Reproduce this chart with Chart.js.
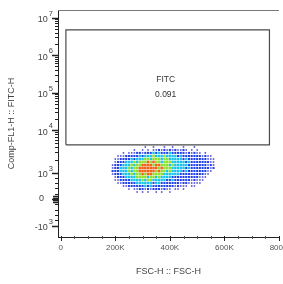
<!DOCTYPE html>
<html>
<head>
<meta charset="utf-8">
<script src="https://cdn.jsdelivr.net/npm/chart.js@4.4.1/dist/chart.umd.min.js"></script>
<style>
  html, body { margin: 0; padding: 0; background: #fff; overflow: hidden; }
</style>
</head>
<body>
<canvas id="c" width="283" height="284"></canvas>
<script>
// FSC-H bin centres (K) and FITC-H bin centres
const FSC_BINS = [190, 200, 210, 220, 230, 240, 250, 260, 270, 280, 290, 300, 310, 320, 330, 340, 350, 360, 370,
  380, 390, 400, 410, 420, 430, 440, 450, 460, 470, 480, 490, 500, 510, 520, 530, 540, 550, 560];
const FITC_BINS = [4000, 3400, 2900, 2450, 2080, 1770, 1500, 1280, 1085, 943, 830, 717, 604, 491, 377, 264];

// density per bin, one string per FITC row (0 empty .. 5 hottest)
const DENSITY = [
  '00000000000010010001001000100010000000',
  '00000000100101011212121211210101000000',
  '00001011122122232322232222212121101000',
  '00111222223233343334333323222222212110',
  '01122223233344344434433333232222222111',
  '01222333434445454434443333323222222211',
  '12223334344555545544434333332222222121',
  '12233343445555555454443333323222222212',
  '22233343445555554544343333232222222110',
  '12223334344545544443333332222222221100',
  '01222333344443443433332222222222111000',
  '01122223333434433333223222222121110000',
  '00112222233333323322222221221111100000',
  '00001122222232322222222121110110000000',
  '00000010112212122212110110100000000000',
  '00000000010101001010010000000000000000'
];
const LEVEL_COLORS = ['', '#4646d2', '#2140ee', '#19c2ea', '#8ee02e', '#f2621c'];
const LEVEL_SIZES = [0, 1.1, 1.45, 1.7, 1.8, 1.8];

const X_TICKS = [0, 200000, 400000, 600000, 800000];
const X_LABELS = ['0', '200K', '400K', '600K', '800K'];
const Y_TICKS = [-1000, 0, 1000, 1e4, 1e5, 1e6, 1e7];
const Y_LABELS = ['-10^3', '0', '10^3', '10^4', '10^5', '10^6', '10^7'];
const Y_ZERO_MARKS = [-100, -50, 50, 100];

const GATE_X = [19000, 765000];
const GATE_Y = [4500, 4700000];
const GATE_NAME = 'FITC';
const GATE_FREQ = '0.091';

const FONT = '"Liberation Sans", Arial, sans-serif';

// biexponential-ish display transform of the FITC axis
function biex(v) {
  if (v <= 1000) return v / 1000;
  if (v <= 10000) return 1 + 1.6 * Math.log10(v / 1000);
  return 2.6 + 1.415 * Math.log10(v / 10000);
}

const yMinor = [-800, -600, -400, -200, 200, 400, 600, 800];
for (let n = 3; n <= 6; n++) {
  for (let m = 2; m <= 9; m++) yMinor.push(m * Math.pow(10, n));
}
const xMinor = [];
for (let v = 50000; v < 800000; v += 50000) {
  if (!X_TICKS.includes(v)) xMinor.push(v);
}

const levels = [[], [], [], [], [], []];
DENSITY.forEach((row, r) => {
  for (let c = 0; c < row.length; c++) {
    const lv = +row[c];
    if (lv) levels[lv].push({ x: FSC_BINS[c] * 1000, y: biex(FITC_BINS[r]) });
  }
});

const datasets = [];
for (let lv = 1; lv <= 5; lv++) {
  datasets.push({
    data: levels[lv],
    backgroundColor: LEVEL_COLORS[lv],
    borderWidth: 0,
    pointStyle: 'rect',
    pointRadius: LEVEL_SIZES[lv],
    order: 6 - lv
  });
}
datasets.push({
  data: [
    { x: GATE_X[0], y: biex(GATE_Y[0]) }, { x: GATE_X[1], y: biex(GATE_Y[0]) },
    { x: GATE_X[1], y: biex(GATE_Y[1]) }, { x: GATE_X[0], y: biex(GATE_Y[1]) },
    { x: GATE_X[0], y: biex(GATE_Y[0]) }
  ],
  showLine: true,
  borderColor: '#4a4a4a',
  borderWidth: 1.2,
  pointRadius: 0,
  fill: false,
  order: 0
});

const axisMarks = {
  id: 'axisMarks',
  afterDraw(chart) {
    const { ctx, chartArea: a, scales: { x, y } } = chart;
    ctx.save();
    ctx.strokeStyle = '#7a7a7a';
    ctx.lineWidth = 1;
    ctx.beginPath();
    ctx.moveTo(a.left, a.top + 0.5);
    ctx.lineTo(a.right, a.top + 0.5);
    ctx.stroke();

    ctx.strokeStyle = '#222';
    const yTick = (v, len) => {
      const p = Math.round(y.getPixelForValue(biex(v))) + 0.5;
      ctx.moveTo(a.left - len, p);
      ctx.lineTo(a.left, p);
    };
    ctx.beginPath();
    yMinor.forEach(v => yTick(v, 3));
    ctx.stroke();
    ctx.lineWidth = 1.4;
    ctx.beginPath();
    Y_TICKS.forEach(v => yTick(v, 6));
    Y_ZERO_MARKS.forEach(v => yTick(v, 5));
    ctx.stroke();

    // y labels with raised exponents
    ctx.fillStyle = '#444';
    ctx.textBaseline = 'middle';
    Y_TICKS.forEach((v, i) => {
      const p = y.getPixelForValue(biex(v));
      const [base, exp] = Y_LABELS[i].split('^');
      if (exp === undefined) {
        ctx.font = '9px ' + FONT;
        ctx.textAlign = 'center';
        ctx.fillText(base, 41.5, p);
        return;
      }
      ctx.font = '7.5px ' + FONT;
      ctx.textAlign = 'right';
      ctx.fillText(exp, a.left - 5, p - 4);
      const ew = ctx.measureText(exp).width;
      ctx.font = '9px ' + FONT;
      ctx.fillText(base, a.left - 6 - ew, p + 2);
    });

    const xTick = (v, up, down) => {
      const p = Math.round(x.getPixelForValue(v)) + 0.5;
      ctx.moveTo(p, a.bottom - up);
      ctx.lineTo(p, a.bottom + down);
    };
    ctx.lineWidth = 1;
    ctx.strokeStyle = '#555';
    ctx.beginPath();
    xMinor.forEach(v => xTick(v, 1, 2));
    ctx.stroke();
    ctx.strokeStyle = '#222';
    ctx.beginPath();
    X_TICKS.forEach(v => xTick(v, 1, 4));
    ctx.stroke();

    const gx = (x.getPixelForValue(GATE_X[0]) + x.getPixelForValue(GATE_X[1])) / 2;
    const gy = (y.getPixelForValue(biex(GATE_Y[0])) + y.getPixelForValue(biex(GATE_Y[1]))) / 2;
    ctx.fillStyle = '#333';
    ctx.font = '8.5px ' + FONT;
    ctx.textAlign = 'center';
    ctx.textBaseline = 'middle';
    ctx.fillText(GATE_NAME, gx - 2, gy - 7.5);
    ctx.fillText(GATE_FREQ, gx - 2, gy + 7.5);
    ctx.restore();
  }
};

new Chart(document.getElementById('c'), {
  type: 'scatter',
  data: { datasets },
  options: {
    responsive: false,
    animation: false,
    devicePixelRatio: 1,
    layout: { padding: { top: 10, right: 0, bottom: 0, left: 0 } },
    plugins: { legend: { display: false }, tooltip: { enabled: false } },
    scales: {
      x: {
        type: 'linear',
        min: -10000,
        max: 800000,
        afterBuildTicks: s => { s.ticks = X_TICKS.map(v => ({ value: v })); },
        afterFit: s => { s.height = 47; s.paddingLeft = 0; s.paddingRight = 0; },
        grid: { display: true, drawOnChartArea: false, drawTicks: false },
        border: { display: true, color: '#222', width: 1 },
        ticks: {
          autoSkip: false, maxRotation: 0, padding: 6, color: '#555',
          font: { size: 8, family: FONT },
          callback: v => X_LABELS[X_TICKS.indexOf(v)]
        },
        title: {
          display: true, text: 'FSC-H :: FSC-H', color: '#444',
          font: { size: 9, family: FONT }, padding: { top: 0, bottom: 6.6 }
        }
      },
      y: {
        type: 'linear',
        min: biex(-1434),
        max: biex(1.6e7),
        afterBuildTicks: s => { s.ticks = Y_TICKS.map(v => ({ value: biex(v) })); },
        afterFit: s => { s.width = 58; s.paddingTop = 0; s.paddingBottom = 0; },
        grid: { display: true, drawOnChartArea: false, drawTicks: false },
        border: { display: true, color: '#222', width: 1 },
        ticks: { display: false },
        title: {
          display: true, text: 'Comp-FL1-H :: FITC-H', color: '#444',
          font: { size: 9, family: FONT }, padding: { top: 6.6, bottom: 0 }
        }
      }
    }
  },
  plugins: [axisMarks]
});
</script>
</body>
</html>
